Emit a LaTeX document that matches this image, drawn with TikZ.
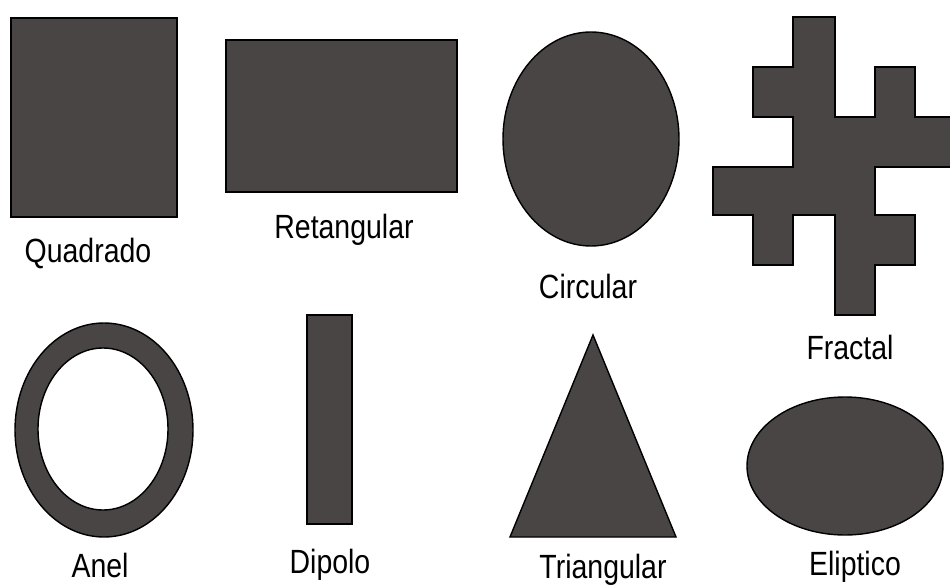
\documentclass[tikz,border=0pt]{standalone}
\usepackage{graphicx}
\usepackage{fontspec}
\setmainfont{Liberation Sans}
\definecolor{patch}{RGB}{74,69,69}
\newcommand{\alto}[1]{\scalebox{1}[1.18]{#1}}
\tikzset{
    antena/.style={fill=patch, draw=black, line width=0.8pt},
    rotulo/.style={anchor=base, inner sep=0pt, font=\fontsize{16.2}{20}\selectfont}
}

\begin{document}
\begin{tikzpicture}[x=0.02cm, y=-0.02cm]
    \useasboundingbox (0,0) rectangle (950,588);
    % linha de cima
    \draw[antena] (11,18) rectangle (177,217);
    \node[rotulo] (quad) at (88,262) {\alto{Quadrado}};
    \draw[antena] (226,40) rectangle (457,192);
    \node[rotulo] (ret) at (344,238) {\alto{Retangular}};
    \draw[antena] (591,139) ellipse (88 and 107);
    \node[rotulo] (circ) at (588,298) {\alto{Circular}};
    \draw[antena] (793,17) -- (835,17) -- (835,117) -- (875,117) -- (875,67)
        -- (915,67) -- (915,117) -- (952,117) -- (952,167) -- (875,167)
        -- (875,215) -- (915,215) -- (915,265) -- (875,265) -- (875,315)
        -- (835,315) -- (835,215) -- (793,215) -- (793,265) -- (753,265)
        -- (753,215) -- (713,215) -- (713,167) -- (793,167) -- (793,117)
        -- (753,117) -- (753,67) -- (793,67) -- cycle;
    \node[rotulo] (frac) at (850,359) {\alto{Fractal}};
    % linha de baixo
    \draw[antena, even odd rule] (104,430) ellipse (89 and 107)
        (103,429) ellipse (65 and 81);
    \node[rotulo] (anel) at (100,577) {\alto{Anel}};
    \draw[antena] (307,315) rectangle (352,524);
    \node[rotulo] (dip) at (330,573) {\alto{Dipolo}};
    \draw[antena] (593,335) -- (676,537) -- (510,537) -- cycle;
    \node[rotulo] (tri) at (603,578) {\alto{Triangular}};
    \draw[antena] (845,466) ellipse (98 and 69);
    \node[rotulo] (elip) at (855,575) {\alto{Eliptico}};
\end{tikzpicture}
\end{document}
